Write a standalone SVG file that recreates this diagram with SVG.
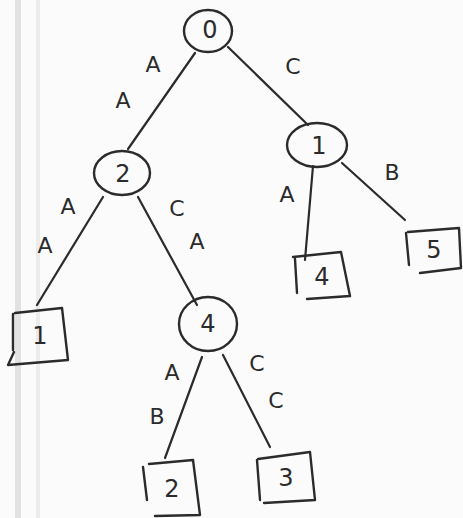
<svg xmlns="http://www.w3.org/2000/svg" width="463" height="518" viewBox="0 0 463 518">
  <style>
    .edge { stroke: #2b2b2b; stroke-width: 2.2; fill: none; stroke-linecap: round; }
    .inner { fill: none; stroke: #2b2b2b; stroke-width: 2.4; }
    .leaf { fill: none; stroke: #2b2b2b; stroke-width: 2.4; stroke-linejoin: round; stroke-linecap: round; }
    .num { font-family: "DejaVu Sans", "Liberation Sans", sans-serif; font-size: 24px; fill: #2b2b2b; text-anchor: middle; dominant-baseline: central; }
    .lbl { font-family: "DejaVu Sans", "Liberation Sans", sans-serif; font-size: 22px; fill: #2b2b2b; text-anchor: middle; dominant-baseline: central; }
  </style>

  <!-- paper and binding edge -->
  <rect x="0" y="0" width="463" height="518" fill="#fbfbfb"/>
  <rect x="15" y="0" width="6" height="518" fill="#e2e2e2"/>
  <rect x="36" y="0" width="4" height="518" fill="#ececec"/>

  <!-- connectors -->
  <g id="edges">
    <line class="edge" x1="195" y1="53" x2="128" y2="149"/>
    <line class="edge" x1="228" y1="47" x2="308" y2="125"/>
    <line class="edge" x1="313" y1="166" x2="305" y2="260"/>
    <line class="edge" x1="342" y1="163" x2="405" y2="220"/>
    <line class="edge" x1="103" y1="197" x2="37" y2="305"/>
    <line class="edge" x1="138" y1="197" x2="197" y2="305"/>
    <line class="edge" x1="202" y1="357" x2="165" y2="458"/>
    <line class="edge" x1="223" y1="355" x2="270" y2="447"/>
  </g>

  <!-- edge labels -->
  <g id="labels">
    <text class="lbl" x="153" y="64">A</text>
    <text class="lbl" x="123" y="100">A</text>
    <text class="lbl" x="293" y="66">C</text>
    <text class="lbl" x="392" y="172">B</text>
    <text class="lbl" x="287" y="194">A</text>
    <text class="lbl" x="68" y="206">A</text>
    <text class="lbl" x="45" y="245">A</text>
    <text class="lbl" x="177" y="208">C</text>
    <text class="lbl" x="197" y="241">A</text>
    <text class="lbl" x="172" y="372">A</text>
    <text class="lbl" x="157" y="416">B</text>
    <text class="lbl" x="257" y="363">C</text>
    <text class="lbl" x="276" y="400">C</text>
  </g>

  <!-- inner nodes -->
  <g id="node-0">
    <ellipse class="inner" cx="208" cy="31" rx="24" ry="21"/>
    <text class="num" x="210" y="30">0</text>
  </g>
  <g id="node-1">
    <ellipse class="inner" cx="317" cy="145" rx="30" ry="22"/>
    <text class="num" x="319" y="146">1</text>
  </g>
  <g id="node-2">
    <ellipse class="inner" cx="122" cy="173" rx="28" ry="22"/>
    <text class="num" x="123" y="174">2</text>
  </g>
  <g id="node-4">
    <ellipse class="inner" cx="208" cy="324" rx="29" ry="27"/>
    <text class="num" x="208" y="324">4</text>
  </g>

  <!-- leaves -->
  <g id="leaf-1">
    <path class="leaf" d="M13,314 L13,350 M15,313 L62,308 L68,360 L8,365 L14,352"/>
    <text class="num" x="40" y="336">1</text>
  </g>
  <g id="leaf-4">
    <path class="leaf" d="M295,259 L297,293 M293,257 L341,252 L350,296 L307,299"/>
    <text class="num" x="322" y="277">4</text>
  </g>
  <g id="leaf-5">
    <path class="leaf" d="M406,233 L409,265 M408,232 L459,228 L461,268 L420,273"/>
    <text class="num" x="434" y="250">5</text>
  </g>
  <g id="leaf-2">
    <path class="leaf" d="M143,467 L147,500 M149,464 L193,460 L200,515 L155,516"/>
    <text class="num" x="172" y="489">2</text>
  </g>
  <g id="leaf-3">
    <path class="leaf" d="M257,460 L260,500 M258,459 L310,452 L315,500 L264,503"/>
    <text class="num" x="286" y="478">3</text>
  </g>
</svg>
